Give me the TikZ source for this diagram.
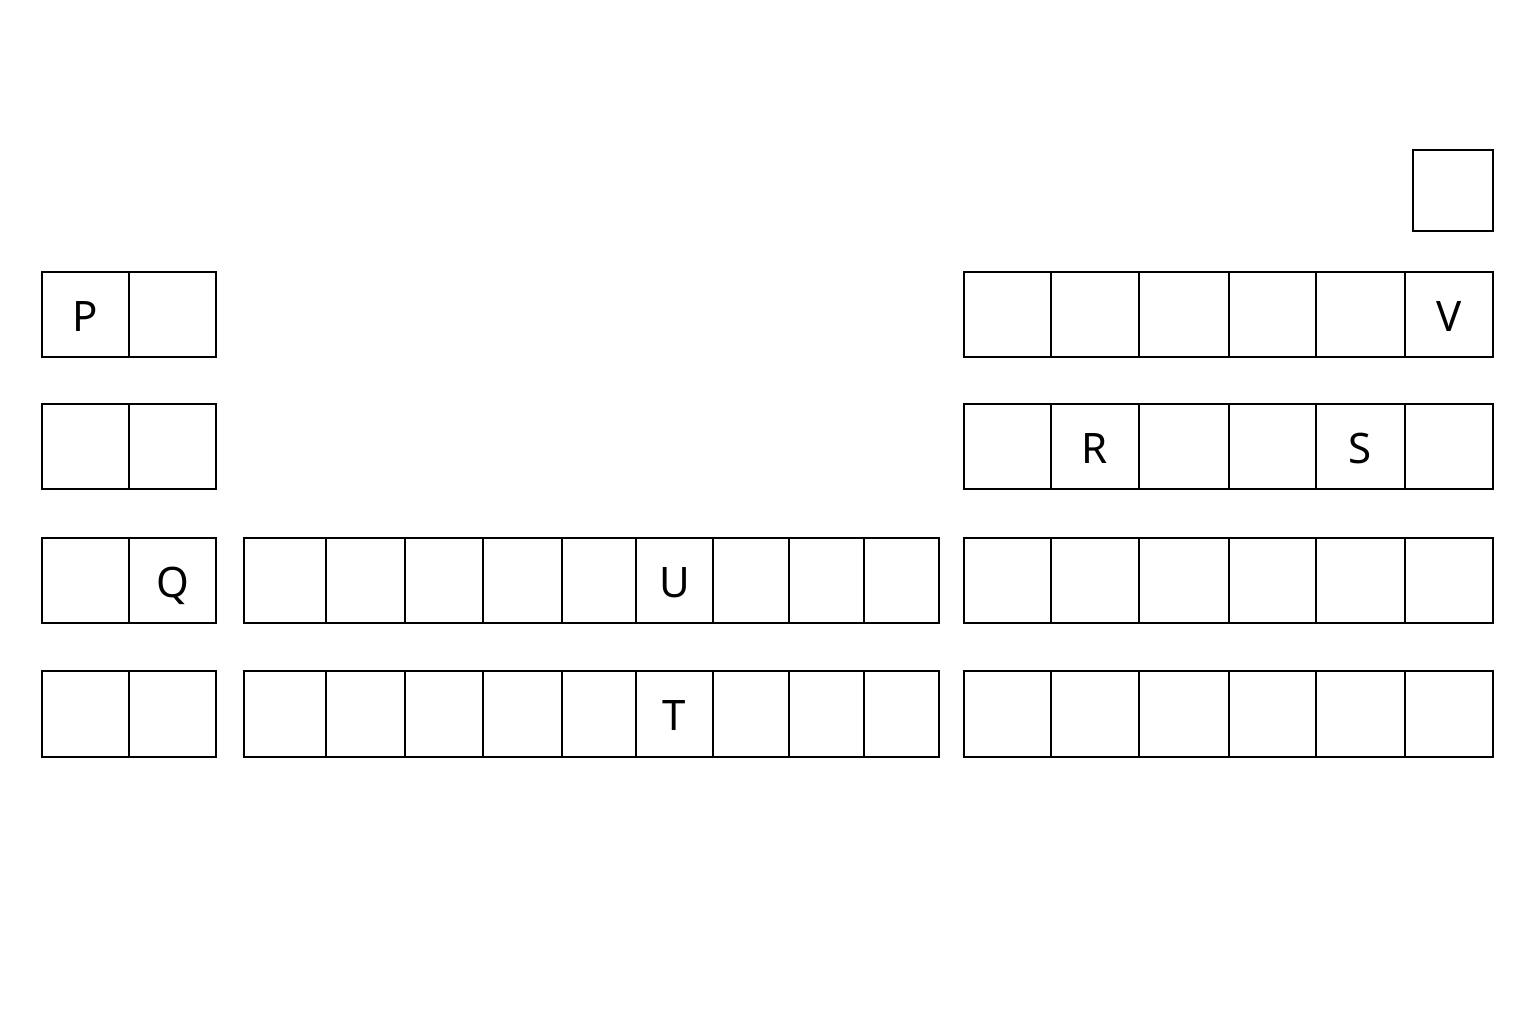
\documentclass[tikz,border=0pt]{standalone}
\usepackage{fontspec}
\setmainfont{Noto Sans}
\begin{document}
\begin{tikzpicture}[x=1pt,y=-1pt,
  cell/.style={draw=black,line width=2pt,fill=none,inner sep=0pt},
  lbl/.style={inner sep=0pt,font=\fontsize{42}{42}\selectfont,text height=30pt,text depth=0pt,yshift=-1.5pt}]
\useasboundingbox[fill=white] (0,0) rectangle (1536,1024);
% top-right single cell
\node[cell,minimum width=80pt,minimum height=81pt] (top) at (1453,190.5) {};
\foreach \yt/\yb/\r in {272/357/1,404/489/2,538/623/3,671/757/4}{
  % left block
  \foreach \xa/\xb/\c in {42/129/1,129/216/2}{
    \node[cell,minimum width={\xb-\xa},minimum height={\yb-\yt}] (L\r c\c) at ({(\xa+\xb)/2},{(\yt+\yb)/2}) {};
  }
  % right block
  \foreach \xa/\xb/\c in {964/1051/1,1051/1139/2,1139/1229/3,1229/1316/4,1316/1405/5,1405/1493/6}{
    \node[cell,minimum width={\xb-\xa},minimum height={\yb-\yt}] (R\r c\c) at ({(\xa+\xb)/2},{(\yt+\yb)/2}) {};
  }
}
% middle block, rows 3 and 4
\foreach \yt/\yb/\r in {538/623/3,671/757/4}{
  \foreach \xa/\xb/\c in {244/326/1,326/405/2,405/483/3,483/562/4,562/636/5,636/713/6,713/789/7,789/864/8,864/939/9}{
    \node[cell,minimum width={\xb-\xa},minimum height={\yb-\yt}] (M\r c\c) at ({(\xa+\xb)/2},{(\yt+\yb)/2}) {};
  }
}
% labels
\node[lbl] (P) at (L1c1) {P};
\node[lbl] (Q) at (L3c2) {Q};
\node[lbl] (U) at (M3c6) {U};
\node[lbl] (T) at (M4c6) {T};
\node[lbl] (R) at (R2c2) {R};
\node[lbl] (S) at (R2c5) {S};
\node[lbl] (V) at (R1c6) {V};
\end{tikzpicture}
\end{document}
